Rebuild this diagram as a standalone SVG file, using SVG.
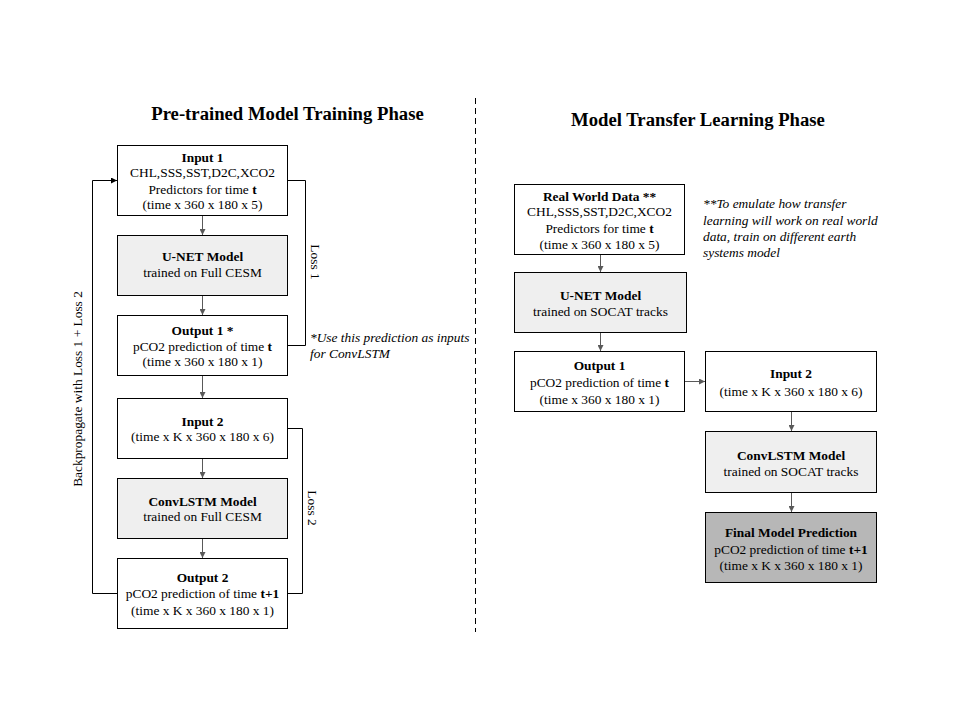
<svg xmlns="http://www.w3.org/2000/svg" width="960" height="720" viewBox="0 0 960 720">
<style>
text{font-family:"Liberation Serif","Times New Roman",serif;font-size:13.4px;fill:#000}
.c{text-anchor:middle}
.b{font-weight:bold}
.t{font-size:18.7px;font-weight:bold;text-anchor:middle}
.i{font-style:italic}
.box{fill:#fff;stroke:#000;stroke-width:1}
.gray{fill:#efefef;stroke:#000;stroke-width:1}
.dark{fill:#b7b7b7;stroke:#000;stroke-width:1}
.arr{stroke:#595959;stroke-width:1;fill:none;marker-end:url(#ah)}
.ln{stroke:#000;stroke-width:1;fill:none}
</style>
<defs>
<marker id="ah" viewBox="0 0 8 8" refX="8" refY="4" markerWidth="6" markerHeight="6" markerUnits="userSpaceOnUse" orient="auto">
<path d="M0,0 L8,4 L0,8 z" fill="#595959"/>
</marker>
<marker id="ahb" viewBox="0 0 8 8" refX="8" refY="4" markerWidth="6" markerHeight="6" markerUnits="userSpaceOnUse" orient="auto">
<path d="M0,0 L8,4 L0,8 z" fill="#000"/>
</marker>
</defs>
<rect width="960" height="720" fill="#fff"/>

<text class="t" x="287.5" y="120">Pre-trained Model Training Phase</text>
<text class="t" x="698" y="126">Model Transfer Learning Phase</text>
<line x1="475.5" y1="98" x2="475.5" y2="632" stroke="#000" stroke-width="1" stroke-dasharray="6,4"/>

<g id="connectors">
<line class="arr" x1="202.5" y1="215" x2="202.5" y2="235"/>
<line class="arr" x1="202.5" y1="295" x2="202.5" y2="315"/>
<line class="arr" x1="202.5" y1="375" x2="202.5" y2="398"/>
<line class="arr" x1="202.5" y1="458" x2="202.5" y2="478"/>
<line class="arr" x1="202.5" y1="538" x2="202.5" y2="558"/>
<polyline class="ln" points="287,180.5 305.5,180.5 305.5,345.5 287,345.5"/>
<polyline class="ln" points="287,428.5 302.5,428.5 302.5,593.5 287,593.5"/>
<polyline class="ln" points="117,593.5 92.5,593.5 92.5,180.5 117,180.5" style="marker-end:url(#ahb)"/>
<line class="arr" x1="600.5" y1="254" x2="600.5" y2="272"/>
<line class="arr" x1="600.5" y1="332" x2="600.5" y2="351"/>
<line class="arr" x1="685" y1="381.5" x2="705" y2="381.5"/>
<line class="arr" x1="791.5" y1="411" x2="791.5" y2="431"/>
<line class="arr" x1="791.5" y1="492" x2="791.5" y2="512"/>
</g>

<text x="315" y="262" class="c" transform="rotate(90 315 262)" dy="4">Loss 1</text>
<text x="312" y="508" class="c" transform="rotate(90 312 508)" dy="4">Loss 2</text>
<text x="78" y="389" class="c" transform="rotate(-90 78 389)" dy="4">Backpropagate with Loss 1 + Loss 2</text>

<g id="input1">
<rect class="box" x="117.5" y="145.5" width="170" height="70"/>
<text class="c b" x="202.5" y="161.5">Input 1</text>
<text class="c" x="202.5" y="177">CHL,SSS,SST,D2C,XCO2</text>
<text class="c" x="202.5" y="193.5">Predictors for time <tspan class="b">t</tspan></text>
<text class="c" x="202.5" y="209">(time x 360 x 180 x 5)</text>
</g>
<g id="unet1">
<rect class="gray" x="117.5" y="235.5" width="170" height="60"/>
<text class="c b" x="202.5" y="261">U-NET Model</text>
<text class="c" x="202.5" y="277">trained on Full CESM</text>
</g>
<g id="output1">
<rect class="box" x="117.5" y="315.5" width="170" height="60"/>
<text class="c b" x="202.5" y="334.5">Output 1 *</text>
<text class="c" x="202.5" y="350.5">pCO2 prediction of time <tspan class="b">t</tspan></text>
<text class="c" x="202.5" y="366">(time x 360 x 180 x 1)</text>
</g>
<text class="i" x="310" y="342">*Use this prediction as inputs</text>
<text class="i" x="310" y="358">for ConvLSTM</text>
<g id="input2">
<rect class="box" x="117.5" y="398.5" width="170" height="60"/>
<text class="c b" x="202.5" y="425.5">Input 2</text>
<text class="c" x="202.5" y="441">(time x K x 360 x 180 x 6)</text>
</g>
<g id="convlstm1">
<rect class="gray" x="117.5" y="478.5" width="170" height="60"/>
<text class="c b" x="202.5" y="505.5">ConvLSTM Model</text>
<text class="c" x="202.5" y="521">trained on Full CESM</text>
</g>
<g id="output2">
<rect class="box" x="117.5" y="558.5" width="170" height="70"/>
<text class="c b" x="202.5" y="582">Output 2</text>
<text class="c" x="202.5" y="598">pCO2 prediction of time <tspan class="b">t+1</tspan></text>
<text class="c" x="202.5" y="614.5">(time x K x 360 x 180 x 1)</text>
</g>

<g id="realdata">
<rect class="box" x="514.5" y="184.5" width="170" height="70"/>
<text class="c b" x="599.5" y="200.5">Real World Data **</text>
<text class="c" x="599.5" y="216">CHL,SSS,SST,D2C,XCO2</text>
<text class="c" x="599.5" y="232.5">Predictors for time <tspan class="b">t</tspan></text>
<text class="c" x="599.5" y="249">(time x 360 x 180 x 5)</text>
</g>
<text class="i" x="703" y="208">**To emulate how transfer</text>
<text class="i" x="703" y="224.5">learning will work on real world</text>
<text class="i" x="703" y="241">data, train on different earth</text>
<text class="i" x="703" y="257">systems model</text>
<g id="unet2">
<rect class="gray" x="514.5" y="272.5" width="172" height="60"/>
<text class="c b" x="600.5" y="299.5">U-NET Model</text>
<text class="c" x="600.5" y="315.5">trained on SOCAT tracks</text>
</g>
<g id="output1r">
<rect class="box" x="514.5" y="351.5" width="170" height="60"/>
<text class="c b" x="599.5" y="369.5">Output 1</text>
<text class="c" x="599.5" y="387">pCO2 prediction of time <tspan class="b">t</tspan></text>
<text class="c" x="599.5" y="403.5">(time x 360 x 180 x 1)</text>
</g>
<g id="input2r">
<rect class="box" x="705.5" y="351.5" width="171" height="60"/>
<text class="c b" x="791" y="378">Input 2</text>
<text class="c" x="791" y="395.5">(time x K x 360 x 180 x 6)</text>
</g>
<g id="convlstm2">
<rect class="gray" x="705.5" y="431.5" width="171" height="61"/>
<text class="c b" x="791" y="459.5">ConvLSTM Model</text>
<text class="c" x="791" y="475.5">trained on SOCAT tracks</text>
</g>
<g id="final">
<rect class="dark" x="705.5" y="512.5" width="171" height="70"/>
<text class="c b" x="791" y="537">Final Model Prediction</text>
<text class="c" x="791" y="553.5">pCO2 prediction of time <tspan class="b">t+1</tspan></text>
<text class="c" x="791" y="569.5">(time x K x 360 x 180 x 1)</text>
</g>
</svg>
